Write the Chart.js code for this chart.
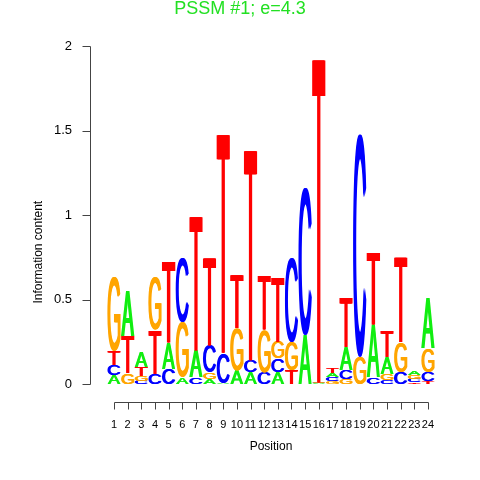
<!DOCTYPE html>
<html><head><meta charset="utf-8">
<script src="https://cdn.jsdelivr.net/npm/chart.js@4/dist/chart.umd.min.js"></script>
<style>html,body{margin:0;padding:0;background:#fff}</style>
</head><body>
<canvas id="c" width="480" height="480"></canvas>
<script>
// ---- data (information content in bits, per letter, per position) ----
const positions = ['1','2','3','4','5','6','7','8','9','10','11','12','13','14','15','16','17','18','19','20','21','22','23','24'];
const bitsA = [0.05, 0.27, 0.09, 0.00, 0.15, 0.04, 0.16, 0.03, 0.005, 0.08, 0.07, 0.00, 0.07, 0.00, 0.29, 0.003, 0.025, 0.14, 0.00, 0.31, 0.10, 0.00, 0.025, 0.30];
const bitsC = [0.065,0.00, 0.02, 0.06, 0.09, 0.38, 0.04, 0.16, 0.18, 0.00, 0.07, 0.07, 0.08, 0.50, 0.87, 0.003, 0.022, 0.05, 1.32, 0.04, 0.025,0.07, 0.02, 0.055];
const bitsG = [0.44, 0.065,0.03, 0.315,0.00, 0.33, 0.00, 0.04, 0.00, 0.25, 0.00, 0.25, 0.10, 0.17, 0.00, 0.003, 0.018, 0.03, 0.16, 0.00, 0.035,0.18, 0.022, 0.14];
const bitsT = [0.08, 0.22, 0.05, 0.26, 0.48, 0.00, 0.79, 0.52, 1.30, 0.31, 1.25, 0.32, 0.385,0.08, 0.00, 1.925,0.03, 0.29, 0.00, 0.43, 0.15, 0.50, 0.01, 0.015];
const yTickValues = [0, 0.5, 1, 1.5, 2];
const letterColors = {A: '#11ee11', C: '#0000ff', G: '#ffa500', T: '#ff0000'};
const titleText = 'PSSM #1; e=4.3';
const yTitleText = 'Information content';

// ---- build stacked datasets: rank 0 = smallest (bottom) ----
const letters = ['A','C','G','T'];
const bits = {A: bitsA, C: bitsC, G: bitsG, T: bitsT};
const rankValues = [[],[],[],[]];
const rankLetters = [[],[],[],[]];
positions.forEach((p, i) => {
  const col = letters.map(L => ({L, v: bits[L][i]})).sort((a, b) => a.v - b.v);
  col.forEach((c, r) => { rankValues[r].push(c.v); rankLetters[r].push(c.L); });
});
const datasets = rankValues.map((data, r) => ({
  label: 'rank' + r,
  data,
  letters: rankLetters[r],
  backgroundColor: 'rgba(0,0,0,0)',
  borderWidth: 0,
  barPercentage: 0.97,
  categoryPercentage: 1,
  stack: 's'
}));

const FAMILY = '"Liberation Sans", Arial, Helvetica, sans-serif';
const GLYPH_FONT = '200px ' + FAMILY;
const metricCache = {};
function glyphMetrics(ctx, L) {
  if (!metricCache[L]) {
    ctx.save(); ctx.font = GLYPH_FONT;
    const m = ctx.measureText(L);
    ctx.restore();
    metricCache[L] = {l: m.actualBoundingBoxLeft, r: m.actualBoundingBoxRight, a: m.actualBoundingBoxAscent, d: m.actualBoundingBoxDescent};
  }
  return metricCache[L];
}
function drawLetter(ctx, L, x0, y0, w, h, color) {
  const m = glyphMetrics(ctx, L);
  const t = Math.min(0.7, w * 0.05);   // horizontal thickening of vertical strokes
  const wi = w - 2 * t;
  [0, t, 2 * t].forEach(dx => {
    ctx.save();
    ctx.translate(x0 + dx, y0);
    ctx.scale(wi / (m.l + m.r), h / (m.a + m.d));
    ctx.font = GLYPH_FONT;
    ctx.fillStyle = color;
    ctx.textAlign = 'left';
    ctx.textBaseline = 'alphabetic';
    ctx.fillText(L, m.l, m.a);
    ctx.restore();
  });
}

const logoPlugin = {
  id: 'logo',
  afterDatasetsDraw(chart) {
    const ctx = chart.ctx;
    chart.data.datasets.forEach((ds, di) => {
      const meta = chart.getDatasetMeta(di);
      meta.data.forEach((el, i) => {
        const {x, y, base, width} = el.getProps(['x','y','base','width'], true);
        const top = Math.min(y, base), h = Math.abs(base - y);
        if (h < 0.3) return;
        const L = ds.letters[i];
        drawLetter(ctx, L, x - width / 2, top, width, h, letterColors[L]);
      });
    });
  },
  afterDraw(chart) {
    const ctx = chart.ctx, xs = chart.scales.x, ys = chart.scales.y, ca = chart.chartArea;
    const axX = Math.round(ca.left - 17) + 0.5;
    const axY = Math.round(ca.bottom + 18) + 0.5;
    ctx.save();
    ctx.strokeStyle = '#444';
    ctx.lineWidth = 1;
    ctx.beginPath();
    // y axis
    ctx.moveTo(axX, Math.round(ys.getPixelForValue(yTickValues[0])) + 0.5);
    ctx.lineTo(axX, Math.round(ys.getPixelForValue(yTickValues[yTickValues.length - 1])) + 0.5);
    yTickValues.forEach(v => {
      const py = Math.round(ys.getPixelForValue(v)) + 0.5;
      ctx.moveTo(axX, py); ctx.lineTo(axX - 8, py);
    });
    // x axis
    const x1 = Math.round(xs.getPixelForValue(0)) + 0.5;
    const x2 = Math.round(xs.getPixelForValue(positions.length - 1)) + 0.5;
    ctx.moveTo(x1, axY); ctx.lineTo(x2, axY);
    positions.forEach((p, i) => {
      const px = Math.round(xs.getPixelForValue(i)) + 0.5;
      ctx.moveTo(px, axY); ctx.lineTo(px, axY + 7);
    });
    ctx.stroke();
    // y axis title
    ctx.translate(ca.left - 69, ys.getPixelForValue(0.78));
    ctx.rotate(-Math.PI / 2);
    ctx.font = '12px ' + FAMILY;
    ctx.fillStyle = '#000';
    ctx.textAlign = 'center';
    ctx.textBaseline = 'middle';
    ctx.fillText(yTitleText, 0, 0);
    ctx.restore();
  }
};

new Chart(document.getElementById('c'), {
  type: 'bar',
  data: {labels: positions, datasets},
  plugins: [logoPlugin],
  options: {
    responsive: false,
    animation: false,
    devicePixelRatio: 1,
    layout: {padding: {top: 0, right: 45.2, bottom: 0, left: 45.2}},
    plugins: {
      legend: {display: false},
      tooltip: {enabled: false},
      title: {
        display: true, text: titleText, color: '#22e022',
        font: {family: FAMILY, size: 18, weight: 'normal', lineHeight: 1},
        padding: {top: 0, bottom: 28}
      }
    },
    scales: {
      x: {
        stacked: true,
        grid: {display: false, drawTicks: false},
        border: {display: false},
        ticks: {color: '#000', font: {family: FAMILY, size: 11}, padding: 34, autoSkip: false, minRotation: 0, maxRotation: 0},
        title: {display: true, text: 'Position', color: '#000', font: {family: FAMILY, size: 12}, padding: {top: 0, bottom: 26}},
        afterFit(s) { s.height = 96; }
      },
      y: {
        stacked: true,
        min: 0, max: 2,
        afterBuildTicks(s) { s.ticks = yTickValues.map(v => ({value: v})); },
        grid: {display: false, drawTicks: false},
        border: {display: false},
        ticks: {color: '#000', font: {family: FAMILY, size: 13}, padding: 35.2, callback: v => String(v)},
        title: {display: false},
        afterFit(s) { s.width = 62; }
      }
    }
  }
});
</script>
</body></html>
